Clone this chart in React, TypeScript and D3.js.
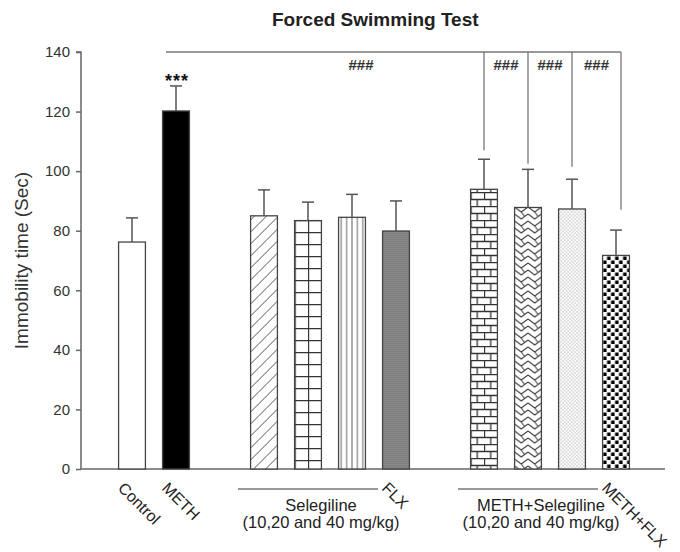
import React, { useEffect, useRef } from 'react';
import * as d3 from 'd3';

// Group order on the x axis (two gap slots separate the three blocks)
const groups = ['Control', 'METH', 'S10', 'S20', 'S40', 'FLX', 'MS10', 'MS20', 'MS40', 'METH+FLX'];
const slots = ['Control', 'METH', 'gap1', 'S10', 'S20', 'S40', 'FLX', 'gap2', 'MS10', 'MS20', 'MS40', 'METH+FLX'];
const means = [76.2, 120.2, 85.0, 83.4, 84.5, 79.9, 93.9, 87.8, 87.3, 71.7];
const sems = [8.1, 8.4, 8.7, 6.2, 7.7, 10.1, 10.1, 12.8, 10.0, 8.5];
const fills = ['white', 'black', 'url(#p-diag)', 'url(#p-grid)', 'url(#p-vert)', 'url(#p-stip)', 'url(#p-brick)', 'url(#p-weave)', 'url(#p-dots)', 'url(#p-check)'];

const yTicks = [0, 20, 40, 60, 80, 100, 120, 140];
const rotatedLabels = [
  { key: 'Control', text: 'Control' },
  { key: 'METH', text: 'METH' },
  { key: 'FLX', text: 'FLX' },
  { key: 'METH+FLX', text: 'METH+FLX' },
];
const blockLabels = [
  { from: 'S10', to: 'S40', lines: ['Selegiline', '(10,20 and 40 mg/kg)'] },
  { from: 'MS10', to: 'MS40', lines: ['METH+Selegiline', '(10,20 and 40 mg/kg)'] },
];

// significance bracket: top level, drops to these groups (end value of each drop)
const bracketTop = 140;
const bracketDrops = [
  { key: 'MS10', end: 107 },
  { key: 'MS20', end: 102.5 },
  { key: 'MS40', end: 101.5 },
  { key: 'METH+FLX', end: 87 },
];

const FONT = '"Liberation Sans", Arial, sans-serif';

const App = () => {
  const svgRef = useRef(null);

  useEffect(() => {
    const svg = d3.select(svgRef.current);
    svg.selectAll('*').remove();

    const x = d3.scaleBand().domain(slots).range([110, 638]).paddingInner(0.39).paddingOuter(0.195);
    const y = d3.scaleLinear().domain([0, 140]).range([469, 52]);
    const cx = (k) => x(k) + x.bandwidth() / 2;
    const bw = x.bandwidth();

    // patterns
    const defs = svg.append('defs');
    const pat = (id, key, w, h) => defs.append('pattern')
      .attr('id', id)
      .attr('patternUnits', 'userSpaceOnUse')
      .attr('x', x(key)).attr('y', y(140))
      .attr('width', w).attr('height', h);

    let p = pat('p-diag', 'S10', 12, 12);
    p.append('rect').attr('width', 12).attr('height', 12).attr('fill', 'white');
    p.append('path').attr('d', 'M-3,3 L3,-3 M0,12 L12,0 M9,15 L15,9').attr('stroke', '#555').attr('stroke-width', 1);

    p = pat('p-grid', 'S20', bw / 2, 12);
    p.append('rect').attr('width', bw / 2).attr('height', 12).attr('fill', 'white');
    p.append('path').attr('d', `M0,0.5 H${bw / 2} M0.5,0 V12`).attr('stroke', '#333').attr('stroke-width', 1.3);

    p = pat('p-vert', 'S40', bw / 5, 10);
    p.append('rect').attr('width', bw / 5).attr('height', 10).attr('fill', 'white');
    p.append('path').attr('d', `M${bw / 10},0 V10`).attr('stroke', '#666').attr('stroke-width', 1);

    p = pat('p-stip', 'FLX', 2, 2);
    p.append('rect').attr('width', 2).attr('height', 2).attr('fill', '#7c7c7c');
    p.append('rect').attr('width', 1).attr('height', 1).attr('fill', '#989898');

    p = pat('p-brick', 'MS10', bw / 2, 14);
    p.append('rect').attr('width', bw / 2).attr('height', 14).attr('fill', 'white');
    p.append('path')
      .attr('d', `M0,0.5 H${bw / 2} M0,7.5 H${bw / 2} M0.5,0 V7 M${bw / 4},7 V14`)
      .attr('stroke', '#333').attr('stroke-width', 1.3);

    p = pat('p-weave', 'MS20', bw / 2, 14);
    p.append('rect').attr('width', bw / 2).attr('height', 14).attr('fill', 'white');
    p.append('path')
      .attr('d', `M0,1 L${bw / 4},6 L${bw / 2},1 M0,8 L${bw / 4},13 L${bw / 2},8 M${bw / 4},6 L${bw / 4 + 3},10`)
      .attr('stroke', '#444').attr('stroke-width', 1.1).attr('fill', 'none');

    p = pat('p-dots', 'MS40', 3.5, 3.5);
    p.append('rect').attr('width', 3.5).attr('height', 3.5).attr('fill', 'white');
    p.append('circle').attr('cx', 0.9).attr('cy', 0.9).attr('r', 0.6).attr('fill', '#999');
    p.append('circle').attr('cx', 2.6).attr('cy', 2.6).attr('r', 0.6).attr('fill', '#999');

    p = pat('p-check', 'METH+FLX', 8, 8);
    p.append('rect').attr('width', 8).attr('height', 8).attr('fill', 'white');
    p.append('rect').attr('x', 0.5).attr('y', 0.5).attr('width', 3.5).attr('height', 3.5).attr('fill', 'black');
    p.append('rect').attr('x', 4.5).attr('y', 4.5).attr('width', 3.5).attr('height', 3.5).attr('fill', 'black');

    // title
    svg.append('text')
      .attr('x', 272).attr('y', 26)
      .style('font', `bold 19px ${FONT}`)
      .attr('fill', '#222')
      .text('Forced Swimming Test');

    // y axis
    const yAxis = svg.append('g')
      .attr('transform', 'translate(81,0)')
      .call(d3.axisLeft(y).tickValues(yTicks).tickSize(5).tickPadding(6));
    yAxis.selectAll('path, line').attr('stroke', '#666').attr('stroke-width', 1.5);
    yAxis.select('.domain').attr('d', `M-5,${y(140)} H0 V${y(0)}`);
    yAxis.selectAll('text').style('font', `15px ${FONT}`).attr('fill', '#333');

    svg.append('text')
      .attr('transform', `translate(28,${(y(0) + y(140)) / 2}) rotate(-90)`)
      .attr('text-anchor', 'middle')
      .style('font', `19px ${FONT}`)
      .attr('fill', '#333')
      .text('Immobility time (Sec)');

    // x axis line
    svg.append('line')
      .attr('x1', 81).attr('x2', 665)
      .attr('y1', y(0)).attr('y2', y(0))
      .attr('stroke', '#666').attr('stroke-width', 1.5);

    // bars
    svg.selectAll('.bar')
      .data(groups)
      .enter().append('rect')
      .attr('class', 'bar')
      .attr('x', d => x(d))
      .attr('y', (d, i) => y(means[i]))
      .attr('width', bw)
      .attr('height', (d, i) => y(0) - y(means[i]))
      .attr('fill', (d, i) => fills[i])
      .attr('stroke', '#444')
      .attr('stroke-width', 1.3);

    // error bars (upper only)
    const err = svg.append('g').attr('stroke', '#555').attr('stroke-width', 1.5);
    groups.forEach((g, i) => {
      const top = y(means[i] + sems[i]);
      err.append('line').attr('x1', cx(g)).attr('x2', cx(g)).attr('y1', y(means[i])).attr('y2', top);
      err.append('line').attr('x1', cx(g) - 6).attr('x2', cx(g) + 6).attr('y1', top).attr('y2', top);
    });

    // *** over METH
    svg.append('text')
      .attr('x', cx('METH') + 1).attr('y', 87)
      .attr('text-anchor', 'middle')
      .attr('letter-spacing', 1)
      .style('font', `bold 18px ${FONT}`)
      .attr('fill', '#111')
      .text('***');

    // significance bracket
    const br = svg.append('g').attr('stroke', '#777').attr('stroke-width', 1.3).attr('fill', 'none');
    br.append('line')
      .attr('x1', cx('METH') - 10).attr('x2', cx('METH+FLX') + 5)
      .attr('y1', y(bracketTop)).attr('y2', y(bracketTop));
    bracketDrops.forEach((d, i) => {
      const xx = cx(d.key) + (i === bracketDrops.length - 1 ? 5 : 0);
      br.append('line').attr('x1', xx).attr('x2', xx).attr('y1', y(bracketTop)).attr('y2', y(d.end));
    });
    const hashX = [cx('S40') + 9];
    for (let i = 0; i < bracketDrops.length - 1; i++) {
      const a = cx(bracketDrops[i].key);
      const b = cx(bracketDrops[i + 1].key) + (i + 1 === bracketDrops.length - 1 ? 5 : 0);
      hashX.push((a + b) / 2);
    }
    svg.selectAll('.hash')
      .data(hashX)
      .enter().append('text')
      .attr('class', 'hash')
      .attr('x', d => d).attr('y', 70)
      .attr('text-anchor', 'middle')
      .style('font', `bold 15px ${FONT}`)
      .attr('fill', '#333')
      .text('###');

    // rotated category labels
    svg.selectAll('.rlab')
      .data(rotatedLabels)
      .enter().append('text')
      .attr('class', 'rlab')
      .attr('transform', d => `translate(${cx(d.key) - 15},${489}) rotate(45)`)
      .style('font', `16px ${FONT}`)
      .attr('fill', '#222')
      .text(d => d.text);

    // block labels under Selegiline groups
    blockLabels.forEach(b => {
      const x1 = cx(b.from) - 26;
      const x2 = cx(b.to) + 26;
      svg.append('line')
        .attr('x1', x1).attr('x2', x2).attr('y1', 489).attr('y2', 489)
        .attr('stroke', '#999').attr('stroke-width', 2);
      b.lines.forEach((t, j) => {
        svg.append('text')
          .attr('x', (x1 + x2) / 2 + 13).attr('y', 511 + j * 17)
          .attr('text-anchor', 'middle')
          .style('font', `16.5px ${FONT}`)
          .attr('fill', '#222')
          .text(t);
      });
    });
  }, []);

  return (
    <svg ref={svgRef} width={680} height={552} style={{ position: 'absolute', left: 0, top: 0, background: 'white' }}></svg>
  );
};

export default App;
